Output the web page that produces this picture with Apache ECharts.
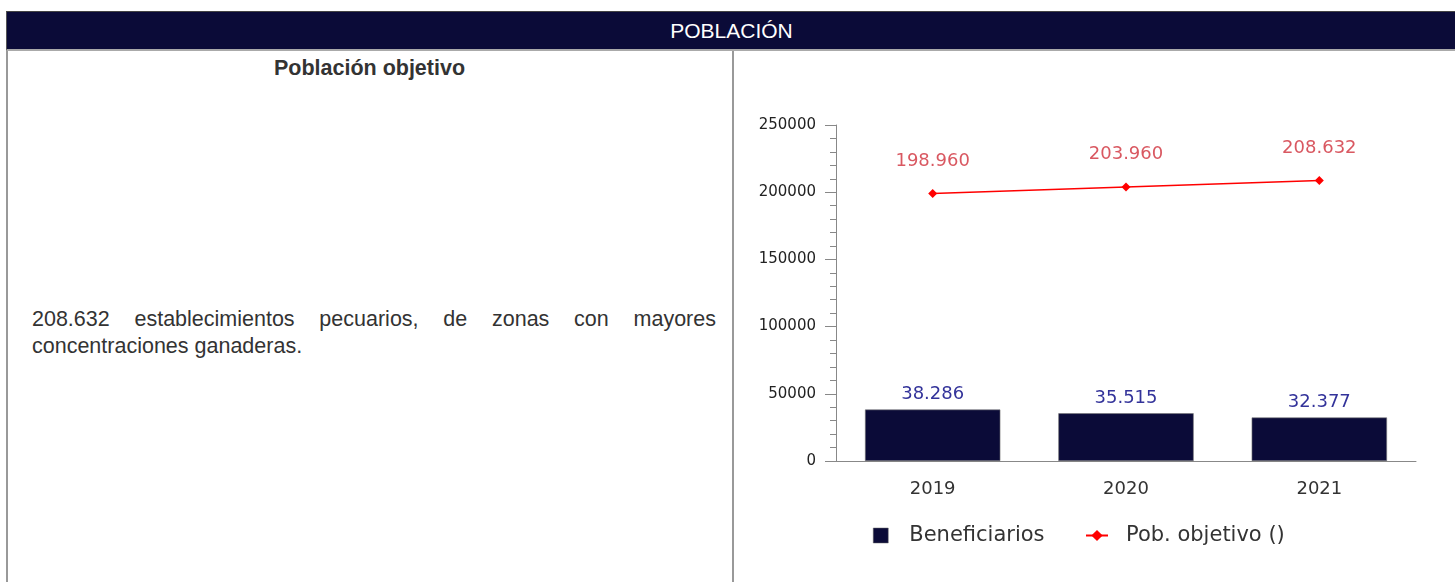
<!DOCTYPE html>
<html>
<head>
<meta charset="utf-8">
<script src="https://cdn.jsdelivr.net/npm/echarts@6/dist/echarts.min.js"></script>
<style>
  html, body { margin: 0; padding: 0; background: #fff; }
  body { width: 1455px; height: 582px; overflow: hidden; position: relative; font-family: "Liberation Sans", Arial, sans-serif; }
  #head { position: absolute; left: 6px; top: 11px; width: 1460px; height: 40px; background: #0b0b38;
          border-top: 1px solid #444; border-left: 1px solid #555; border-bottom: 2px solid #aaa; box-sizing: border-box;
          color: #fff; font-size: 21px; line-height: 37px; text-align: center; padding-right: 10px; }
  #leftCell { position: absolute; left: 6px; top: 51px; width: 728px; height: 600px;
              border-left: 2px solid #999; border-right: 2px solid #999; box-sizing: border-box; }
  #subtitle { position: absolute; left: 6px; top: 55px; width: 727px; text-align: center;
              font-weight: bold; font-size: 21.5px; line-height: 27px; color: #333; }
  #desc { position: absolute; left: 32px; top: 306px; width: 684px; font-size: 21.5px; line-height: 27px;
          color: #333; text-align: justify; }
  #chart { position: absolute; left: 734px; top: 50px; width: 721px; height: 532px; }
</style>
</head>
<body>
<div id="head">POBLACIÓN</div>
<div id="leftCell"></div>
<div id="subtitle">Población objetivo</div>
<div id="desc">208.632 establecimientos pecuarios, de zonas con mayores concentraciones ganaderas.</div>
<div id="chart"></div>
<script>
  // datos del gráfico
  var years = ['2019', '2020', '2021'];
  var beneficiarios = [38286, 35515, 32377];
  var pobObjetivo = [198960, 203960, 208632];
  var yTicks = [0, 50000, 100000, 150000, 200000, 250000];

  // formato con punto de miles
  function fmtMiles(v) {
    return String(v).replace(/\B(?=(\d{3})+(?!\d))/g, '.');
  }

  var myChart = echarts.init(document.getElementById('chart'));
  var option = {
    animation: false,
    textStyle: { fontFamily: 'DejaVu Sans' },
    grid: { left: 102, top: 75, width: 580, height: 336 },
    legend: [
      {
        top: 470, left: 134,
        itemWidth: 15, itemHeight: 15,
        textStyle: { fontSize: 21, color: '#333', fontFamily: 'DejaVu Sans', padding: [0, 0, 0, 16] },
        data: [{ name: 'Beneficiarios', icon: 'rect', itemStyle: { color: '#0b0b38', borderColor: '#666', borderWidth: 0.5 } }]
      },
      {
        top: 470, left: 346,
        itemWidth: 22, itemHeight: 14,
        textStyle: { fontSize: 21, color: '#333', fontFamily: 'DejaVu Sans', padding: [0, 0, 0, 13] },
        data: [{ name: 'Pob. objetivo ()' }]
      }
    ],
    xAxis: {
      type: 'category',
      data: years,
      axisLine: { lineStyle: { color: '#888' } },
      axisTick: { show: false },
      axisLabel: { color: '#333', fontSize: 18, margin: 19 }
    },
    yAxis: {
      type: 'value',
      min: yTicks[0],
      max: yTicks[yTicks.length - 1],
      interval: 50000,
      axisLine: { show: true, lineStyle: { color: '#888' } },
      axisTick: { show: true, length: 11, lineStyle: { color: '#888' } },
      minorTick: { show: true, splitNumber: 5, length: 6, lineStyle: { color: '#888' } },
      splitLine: { show: false },
      axisLabel: { color: '#222', fontSize: 15, margin: 20, formatter: function (v) { return String(v); } }
    },
    series: [
      {
        name: 'Beneficiarios',
        type: 'bar',
        data: beneficiarios,
        barWidth: '70%',
        itemStyle: { color: '#0b0b38', borderColor: '#777', borderWidth: 0.6 },
        label: {
          show: true, position: 'top', distance: 6,
          color: '#33339a', fontSize: 18,
          formatter: function (p) { return fmtMiles(p.value); }
        }
      },
      {
        name: 'Pob. objetivo ()',
        type: 'line',
        data: pobObjetivo,
        symbol: 'diamond',
        symbolSize: 9,
        lineStyle: { color: '#ff0000', width: 1.5 },
        itemStyle: { color: '#ff0000' },
        label: {
          show: true, position: 'top', distance: 19,
          color: '#d95861', fontSize: 18,
          formatter: function (p) { return fmtMiles(p.value); }
        }
      }
    ]
  };
  myChart.setOption(option);
</script>
</body>
</html>
